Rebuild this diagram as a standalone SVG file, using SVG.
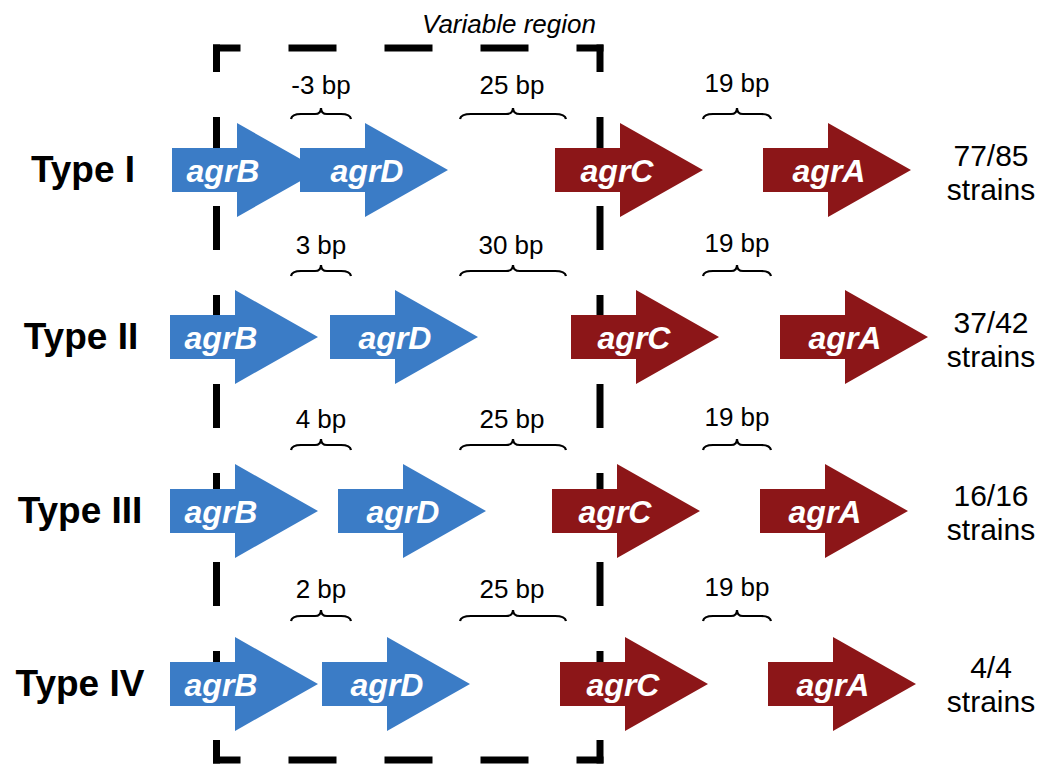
<svg xmlns="http://www.w3.org/2000/svg" width="1043" height="765" viewBox="0 0 1043 765">
<style>
.box{fill:none;stroke:#000;stroke-width:7;stroke-linecap:butt}
.h{stroke-dasharray:48 48;stroke-dashoffset:20.5}
.v{stroke-dasharray:44 45;stroke-dashoffset:16.5}
.blue{fill:#3b7cc6}
.red{fill:#8c1618}
.gene{font-family:"Liberation Sans",Arial,sans-serif;font-weight:bold;font-style:italic;font-size:32px;fill:#fff;text-anchor:middle}
.type{font-family:"Liberation Sans",Arial,sans-serif;font-weight:bold;font-size:37px;fill:#000;text-anchor:middle}
.bp{font-family:"Liberation Sans",Arial,sans-serif;font-size:26px;fill:#000;text-anchor:middle}
.st{font-family:"Liberation Sans",Arial,sans-serif;font-size:30px;fill:#000;text-anchor:middle}
.title{font-family:"Liberation Sans",Arial,sans-serif;font-style:italic;font-size:26px;fill:#000;text-anchor:middle}
.brace{fill:none;stroke:#000;stroke-width:2.2}
</style>
<defs>
<path id="arrow" d="M0,-22 H65 V-47 L148,0 L65,47 V22 H0 Z"/>
<path id="brS" d="M-30,5 Q-29,0 -20,0 L-6,0 Q0,0 0,-6 Q0,0 6,0 L20,0 Q29,0 30,5"/>
<path id="brL" d="M-53,5 Q-52,0 -42,0 L-7,0 Q0,0 0,-6 Q0,0 7,0 L42,0 Q52,0 53,5"/>
<path id="brM" d="M-34,5 Q-33,0 -24,0 L-6,0 Q0,0 0,-6 Q0,0 6,0 L24,0 Q33,0 34,5"/>
</defs>

<g id="variable-region">
<path class="box h" d="M213,48 H603.5"/>
<path class="box h" d="M213,760 H603.5"/>
<path class="box v" d="M216.5,44.5 V763.5"/>
<path class="box v" d="M600,44.5 V763.5"/>
<text class="title" x="509" y="33">Variable region</text>
</g>

<g id="connectors">
<use href="#brS" class="brace" x="321" y="114"/>
<use href="#brL" class="brace" x="513" y="114"/>
<use href="#brM" class="brace" x="737" y="114"/>
<use href="#brS" class="brace" x="321" y="271"/>
<use href="#brL" class="brace" x="513" y="271"/>
<use href="#brM" class="brace" x="737" y="271"/>
<use href="#brS" class="brace" x="321" y="445"/>
<use href="#brL" class="brace" x="513" y="445"/>
<use href="#brM" class="brace" x="737" y="445"/>
<use href="#brS" class="brace" x="321" y="616"/>
<use href="#brL" class="brace" x="513" y="616"/>
<use href="#brM" class="brace" x="737" y="616"/>
</g>

<g id="type1">
<text class="type" x="83" y="182">Type I</text>
<text class="bp" x="321" y="94">-3 bp</text>
<text class="bp" x="512" y="94">25 bp</text>
<text class="bp" x="737" y="92">19 bp</text>
<g id="t1-agrB"><use href="#arrow" class="blue" x="172" y="170"/><text class="gene" x="223" y="182">agrB</text></g>
<g id="t1-agrD"><use href="#arrow" class="blue" x="300" y="170"/><text class="gene" x="367" y="182">agrD</text></g>
<g id="t1-agrC"><use href="#arrow" class="red" x="555" y="170"/><text class="gene" x="617" y="182">agrC</text></g>
<g id="t1-agrA"><use href="#arrow" class="red" x="763" y="170"/><text class="gene" x="829" y="182">agrA</text></g>
<text class="st" x="991" y="166">77/85</text>
<text class="st" x="991" y="200">strains</text>
</g>

<g id="type2">
<text class="type" x="81" y="349">Type II</text>
<text class="bp" x="321" y="254">3 bp</text>
<text class="bp" x="511" y="254">30 bp</text>
<text class="bp" x="737" y="252">19 bp</text>
<g id="t2-agrB"><use href="#arrow" class="blue" x="170" y="337"/><text class="gene" x="221" y="349">agrB</text></g>
<g id="t2-agrD"><use href="#arrow" class="blue" x="330" y="337"/><text class="gene" x="395" y="349">agrD</text></g>
<g id="t2-agrC"><use href="#arrow" class="red" x="571" y="337"/><text class="gene" x="634" y="349">agrC</text></g>
<g id="t2-agrA"><use href="#arrow" class="red" x="780" y="337"/><text class="gene" x="845" y="349">agrA</text></g>
<text class="st" x="991" y="333">37/42</text>
<text class="st" x="991" y="367">strains</text>
</g>

<g id="type3">
<text class="type" x="80" y="523">Type III</text>
<text class="bp" x="321" y="428">4 bp</text>
<text class="bp" x="512" y="428">25 bp</text>
<text class="bp" x="737" y="426">19 bp</text>
<g id="t3-agrB"><use href="#arrow" class="blue" x="170" y="511"/><text class="gene" x="221" y="523">agrB</text></g>
<g id="t3-agrD"><use href="#arrow" class="blue" x="338" y="511"/><text class="gene" x="403" y="523">agrD</text></g>
<g id="t3-agrC"><use href="#arrow" class="red" x="552" y="511"/><text class="gene" x="615" y="523">agrC</text></g>
<g id="t3-agrA"><use href="#arrow" class="red" x="760" y="511"/><text class="gene" x="825" y="523">agrA</text></g>
<text class="st" x="991" y="506">16/16</text>
<text class="st" x="991" y="540">strains</text>
</g>

<g id="type4">
<text class="type" x="80" y="696">Type IV</text>
<text class="bp" x="321" y="598">2 bp</text>
<text class="bp" x="512" y="598">25 bp</text>
<text class="bp" x="737" y="596">19 bp</text>
<g id="t4-agrB"><use href="#arrow" class="blue" x="170" y="684"/><text class="gene" x="221" y="696">agrB</text></g>
<g id="t4-agrD"><use href="#arrow" class="blue" x="322" y="684"/><text class="gene" x="387" y="696">agrD</text></g>
<g id="t4-agrC"><use href="#arrow" class="red" x="560" y="684"/><text class="gene" x="623" y="696">agrC</text></g>
<g id="t4-agrA"><use href="#arrow" class="red" x="768" y="684"/><text class="gene" x="833" y="696">agrA</text></g>
<text class="st" x="991" y="678">4/4</text>
<text class="st" x="991" y="712">strains</text>
</g>
</svg>
